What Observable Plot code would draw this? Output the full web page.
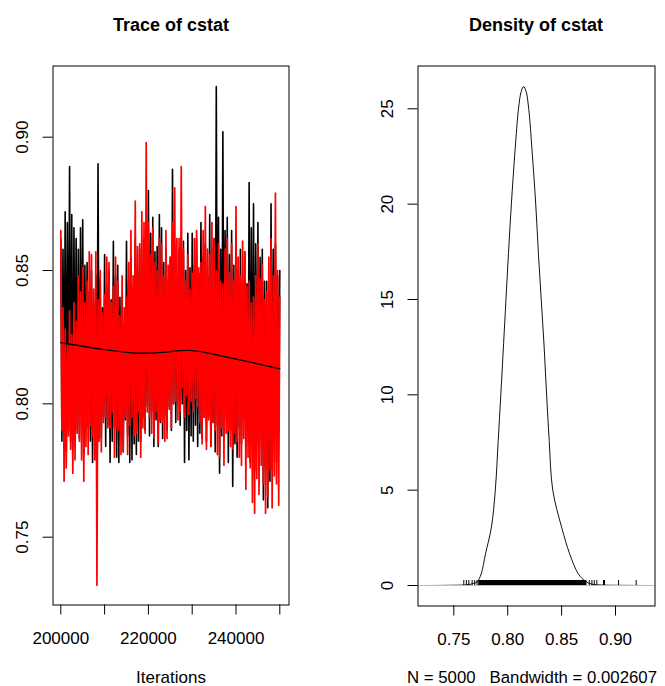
<!DOCTYPE html>
<html><head><meta charset="utf-8">
<script src="https://cdn.jsdelivr.net/npm/d3@7"></script>
<script src="https://cdn.jsdelivr.net/npm/@observablehq/plot@0.6"></script>
<style>
body{margin:0;background:#fff;}
#wrap{position:relative;width:665px;height:686px;font-family:"Liberation Sans",Arial,sans-serif;color:#000;overflow:hidden;}
.t{position:absolute;transform:translateX(-50%);white-space:pre;line-height:1;}
.title{font-weight:bold;font-size:18px;}
.lab{font-size:17px;}
.panel{position:absolute;top:0;}
</style></head><body>
<div id="wrap">
  <div id="left" class="panel" style="left:0px"></div>
  <div id="right" class="panel" style="left:332px"></div>
  <div class="t title" style="left:171px;top:16px">Trace of cstat</div>
  <div class="t title" style="left:536px;top:16px">Density of cstat</div>
  <div class="t lab" style="left:171px;top:669px">Iterations</div>
  <div class="t lab" style="left:532px;top:670px;font-size:16.8px">N = 5000   Bandwidth = 0.002607</div>
</div>
<script>
// ---- Trace data (250-iteration spacing) ----
const iterStart = 200000;
const iterStep = 250;
const chain1 = [ // black chain
.862,.786,.858,.795, .872,.782,.868,.790, .889,.786,.871,.784, .866,.797,.862,.790,
.858,.787,.866,.796, .869,.781,.852,.794, .853,.791,.842,.786, .850,.778,.838,.789,
.848,.784,.890,.795, .847,.787,.836,.795, .856,.784,.844,.792, .850,.778,.839,.786,
.861,.791,.848,.780, .852,.778,.840,.789, .840,.782,.830,.794, .861,.788,.846,.778,
.855,.779,.843,.785, .862,.781,.849,.786, .858,.786,.845,.795, .862,.790,.850,.799,
.880,.788,.864,.797, .870,.784,.857,.794, .859,.784,.871,.793, .866,.787,.853,.796,
.858,.790,.846,.799, .855,.790,.888,.800, .860,.793,.848,.801, .858,.792,.846,.800,
.861,.778,.850,.790, .864,.779,.851,.788, .864,.786,.852,.792, .862,.784,.849,.789,
.868,.787,.855,.795, .860,.786,.848,.795, .871,.784,.858,.793, .862,.782,.919,.792,
.870,.774,.858,.788, .902,.790,.865,.795, .870,.778,.856,.790, .865,.769,.852,.785,
.862,.780,.850,.791, .858,.785,.846,.794, .857,.784,.845,.793, .883,.778,.866,.789,
.875,.775,.860,.786, .868,.780,.855,.790, .858,.764,.846,.776, .846,.761,.835,.771,
.875,.775,.858,.786, .860,.778,.848,.789, .850];
const chain2 = [ // red chain
.865,.790,.836,.771, .828,.776,.822,.788, .835,.783,.826,.774, .838,.779,.831,.789,
.848,.786,.842,.779, .851,.771,.838,.784, .846,.781,.857,.792, .856,.788,.843,.779,
.857,.732,.839,.786, .850,.782,.834,.793, .841,.795,.855,.791, .853,.791,.838,.797,
.844,.780,.855,.791, .846,.790,.833,.781, .848,.782,.836,.795, .840,.781,.853,.792,
.865,.795,.848,.788, .876,.789,.859,.797, .860,.780,.872,.791, .868,.789,.898,.797,
.868,.795,.856,.789, .866,.787,.853,.797, .850,.785,.862,.794, .860,.793,.848,.786,
.865,.787,.852,.798, .855,.791,.868,.800, .881,.801,.862,.794, .862,.797,.889,.806,
.858,.795,.846,.803, .856,.796,.843,.801, .849,.797,.862,.802, .865,.799,.851,.793,
.853,.785,.865,.795, .874,.783,.858,.794, .856,.784,.868,.793, .862,.790,.850,.781,
.860,.780,.846,.791, .845,.777,.858,.789, .862,.790,.849,.784, .860,.783,.846,.789,
.874,.786,.855,.780, .848,.777,.861,.787, .857,.768,.844,.780, .846,.776,.838,.763,
.840,.759,.848,.772, .860,.766,.847,.777, .852,.770,.839,.759, .842,.765,.855,.775,
.862,.761,.848,.773, .879,.770,.850,.762, .840];
const smoothIter = [200000,205000,210000,215000,220000,225000,230000,235000,240000,245000,250000];
const smoothVal  = [0.8230,0.8216,0.8203,0.8193,0.8190,0.8196,0.8200,0.8186,0.8168,0.8150,0.8131];
const traceXTicks = [200000,210000,220000,230000,240000,250000];
const traceXLabels = [200000,220000,240000];
const traceYTicks = [0.75,0.80,0.85,0.90];

// ---- Density data ----
const densX = [0.7247,0.745,0.760,0.7665,0.7717,0.7754,0.7794,0.7849,0.7885,0.7912,0.7936,0.7962,0.7984,0.8007,0.8034,0.8068,0.8100,0.8125,0.8148,
               0.8171,0.8195,0.8226,0.8260,0.8285,0.8311,0.8336,0.8361,0.8385,0.8418,0.8500,0.8575,0.8655,0.8726,0.878,0.890,0.905,0.9268];
const densY = [0,0.01,0.03,0.08,0.2,0.61,1.66,3.06,5.0,7.6,10.0,12.7,15.0,17.4,20.0,22.8,25.0,25.9,26.17,
               25.9,25.0,22.8,20.0,17.4,15.0,12.7,10.0,7.6,5.0,3.06,1.66,0.61,0.2,0.07,0.02,0.01,0];
const rugTicks = [0.7593,0.7617,0.7639,0.7670,0.7694,0.7716,0.8757,0.8781,0.8803,0.8827,0.8889,0.8898,0.9028,0.9192];
const rugBand = [0.7731, 0.8735];
const rugHeight = 0.2617; // max density / 100
const densXTicks = [0.75,0.80,0.85,0.90];
const densYTicks = [0,5,10,15,20,25];

const font = {fontFamily:'"Liberation Sans",Arial,sans-serif', fontSize:"17px", color:"#000", background:"#fff"};

const trace1 = chain1.map((v,i)=>({iter: iterStart + iterStep*i, v}));
const trace2 = chain2.map((v,i)=>({iter: iterStart + iterStep*i, v}));
const smooth = smoothIter.map((x,i)=>({iter:x, v:smoothVal[i]}));

const left = Plot.plot({
  width: 332, height: 686,
  marginLeft: 52.5, marginRight: 43.5, marginTop: 65.5, marginBottom: 81.5,
  style: font,
  x: {domain:[198219, 252100]},
  y: {domain:[0.72457, 0.9267]},
  marks: [
    Plot.line(trace1, {x:"iter", y:"v", stroke:"#000", strokeWidth:1.6}),
    Plot.line(trace2, {x:"iter", y:"v", stroke:"#ff0000", strokeWidth:1.7}),
    Plot.line(smooth, {x:"iter", y:"v", stroke:"#000", strokeWidth:1.3, curve:"natural"}),
    Plot.frame({stroke:"#000"}),
    Plot.axisX(traceXTicks, {tickSize:10, tickPadding:17, label:null, tickFormat: d => traceXLabels.includes(d) ? String(d) : ""}),
    Plot.axisY(traceYTicks, {tickSize:10, tickPadding:15, tickRotate:-90, label:null, tickFormat: d3.format(".2f")})
  ]
});
document.getElementById("left").appendChild(left);

const dens = densX.map((x,i)=>({x, y:densY[i]}));
const right = Plot.plot({
  width: 333, height: 686,
  marginLeft: 85.5, marginRight: 10.5, marginTop: 65.5, marginBottom: 80.5,
  style: font,
  x: {domain:[0.71679, 0.93664]},
  y: {domain:[-1.075, 27.245]},
  marks: [
    Plot.line(dens, {x:"x", y:"y", stroke:"#111", strokeWidth:1, curve:"catmull-rom"}),
    Plot.ruleY([0], {stroke:"#bebebe", strokeWidth:1}),
    Plot.rect([rugBand], {x1: d=>d[0], x2: d=>d[1], y1: 0, y2: rugHeight, fill:"#000"}),
    Plot.ruleX(rugTicks, {x: d=>d, y1: 0, y2: rugHeight, stroke:"#000", strokeWidth:1}),
    Plot.frame({stroke:"#000"}),
    Plot.axisX(densXTicks, {tickSize:10, tickPadding:17, label:null, tickFormat: d3.format(".2f")}),
    Plot.axisY(densYTicks, {tickSize:10, tickPadding:15, tickRotate:-90, label:null, tickFormat: d=>String(d)})
  ]
});
document.getElementById("right").appendChild(right);
</script>
</body></html>
